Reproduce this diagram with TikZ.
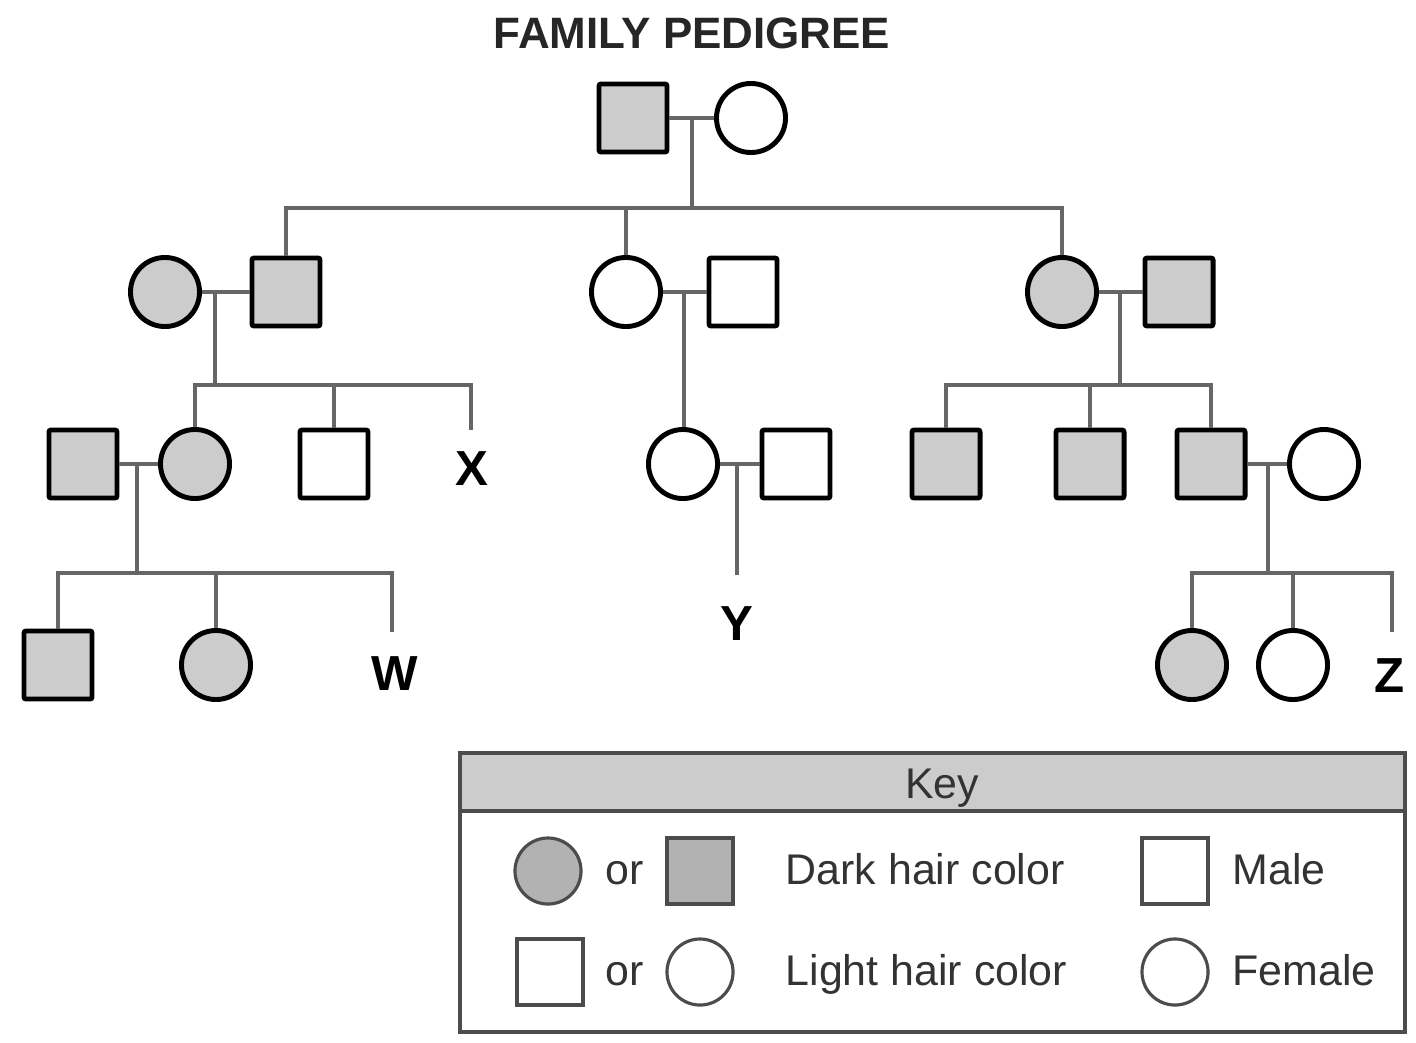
\documentclass[tikz,border=0pt]{standalone}
\usepackage{fontspec}
\setmainfont{Liberation Sans}
\tikzset{
  person/.style={draw=black, line width=1.4pt, minimum size=0.68cm, inner sep=0pt, rounded corners=0.6pt},
  male/.style={person, rectangle},
  female/.style={person, circle, minimum size=0.69cm},
  dark/.style={fill=black!20},
  light/.style={fill=white},
  tie/.style={draw=black!60, line width=1.1pt},
  tag/.style={font=\fontsize{14}{16}\selectfont\bfseries, anchor=base},
  keyshape/.style={draw=black!70, line width=0.9pt, minimum size=0.66cm, inner sep=0pt},
  keytext/.style={font=\fontsize{12.2}{14}\selectfont, text=black!80, anchor=base west, inner sep=0pt}
}
\begin{document}
\begin{tikzpicture}[x=0.01cm, y=-0.01cm]
  \useasboundingbox (0,0) rectangle (1416,1042);
  \node[font=\fontsize{12.5}{14}\selectfont\bfseries, text=black!85, anchor=base] (title) at (692,48) {FAMILY PEDIGREE};

  % first generation
  \node[male, dark] (fa) at (633,118) {};
  \node[female, light] (mo) at (751,118) {};
  % second generation
  \node[female, dark] (a1) at (165,292) {};
  \node[male, dark] (a2) at (286,292) {};
  \node[female, light] (b1) at (626,292) {};
  \node[male, light] (b2) at (743,292) {};
  \node[female, dark] (c1) at (1062,292) {};
  \node[male, dark] (c2) at (1179,292) {};
  % third generation
  \node[male, dark] (a3) at (83,464) {};
  \node[female, dark] (a4) at (195,464) {};
  \node[male, light] (a5) at (334,464) {};
  \node[female, light] (b3) at (683,464) {};
  \node[male, light] (b4) at (796,464) {};
  \node[male, dark] (c3) at (946,464) {};
  \node[male, dark] (c4) at (1090,464) {};
  \node[male, dark] (c5) at (1211,464) {};
  \node[female, light] (c6) at (1324,464) {};
  % fourth generation
  \node[male, dark] (a6) at (58,665) {};
  \node[female, dark] (a7) at (216,665) {};
  \node[female, dark] (c7) at (1192,665) {};
  \node[female, light] (c8) at (1293,665) {};

  % unknown children
  \node[tag] (X) at (472,485) {X};
  \node[tag] (W) at (395,690) {W};
  \node[tag] (Y) at (737,640) {Y};
  \node[tag] (Z) at (1390,692) {Z};
  \coordinate (xend) at (471,430);
  \coordinate (wend) at (392,632);
  \coordinate (yend) at (737,575);
  \coordinate (zend) at (1392,632);

  % where the line of descent leaves each couple
  \coordinate (m0) at (692,118);
  \coordinate (ma) at (215,292);
  \coordinate (mb) at (684,292);
  \coordinate (mc) at (1120,292);
  \coordinate (md) at (137,464);
  \coordinate (me) at (737,464);
  \coordinate (mf) at (1268,464);
  % sibship bars
  \coordinate (s0) at (692,208);
  \coordinate (sa) at (215,385);
  \coordinate (sc) at (1120,385);
  \coordinate (sd) at (137,573);
  \coordinate (sf) at (1268,573);

  \draw[tie] (fa) -- (mo) (m0) -- (s0);
  \draw[tie] (a2.north) -- (a2.north |- s0) -- (c1.north |- s0) -- (c1.north);
  \draw[tie] (b1.north) -- (b1.north |- s0);

  \draw[tie] (a1) -- (a2) (ma) -- (sa);
  \draw[tie] (a4.north) -- (a4.north |- sa) -- (xend |- sa) -- (xend);
  \draw[tie] (a5.north) -- (a5.north |- sa);

  \draw[tie] (b1) -- (b2) (mb) -- (mb |- b3.north);
  \draw[tie] (b3) -- (b4) (me) -- (yend);

  \draw[tie] (c1) -- (c2) (mc) -- (sc);
  \draw[tie] (c3.north) -- (c3.north |- sc) -- (c5.north |- sc) -- (c5.north);
  \draw[tie] (c4.north) -- (c4.north |- sc);

  \draw[tie] (a3) -- (a4) (md) -- (sd);
  \draw[tie] (a6.north) -- (a6.north |- sd) -- (wend |- sd) -- (wend);
  \draw[tie] (a7.north) -- (a7.north |- sd);

  \draw[tie] (c5) -- (c6) (mf) -- (sf);
  \draw[tie] (c7.north) -- (c7.north |- sf) -- (zend |- sf) -- (zend);
  \draw[tie] (c8.north) -- (c8.north |- sf);

  % key
  \draw[draw=black!70, line width=1.2pt, fill=black!20] (460,753) rectangle (1405,811);
  \draw[draw=black!70, line width=1.2pt] (460,811) rectangle (1405,1032);
  \node[keytext, anchor=base] (keyhead) at (942,798) {Key};
  \node[keyshape, circle, fill=black!30] (k1) at (548,871) {};
  \node[keytext, anchor=base] (or1) at (625,884) {or};
  \node[keyshape, fill=black!30] (k2) at (700,871) {};
  \node[keytext] (darktxt) at (785,884) {Dark hair color};
  \node[keyshape] (k3) at (1175,871) {};
  \node[keytext] (maletxt) at (1232,884) {Male};
  \node[keyshape] (k4) at (550,972) {};
  \node[keytext, anchor=base] (or2) at (625,985) {or};
  \node[keyshape, circle] (k5) at (700,972) {};
  \node[keytext] (lighttxt) at (785,985) {Light hair color};
  \node[keyshape, circle] (k6) at (1175,972) {};
  \node[keytext] (femaletxt) at (1232,985) {Female};
\end{tikzpicture}
\end{document}
